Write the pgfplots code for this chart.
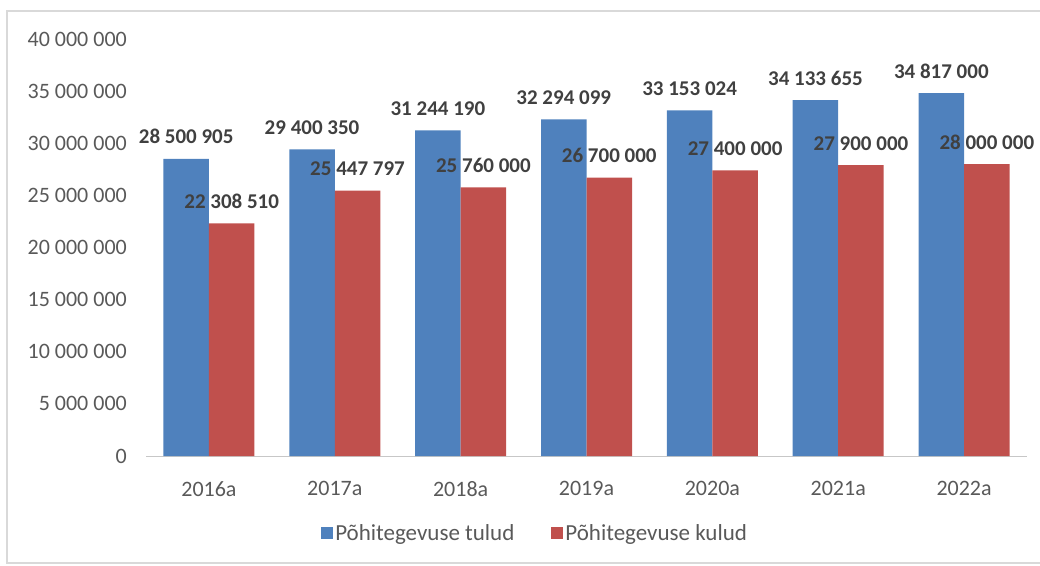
\documentclass[border=0pt]{standalone}
\usepackage{fontspec}
\setmainfont{Carlito}
\usepackage{pgfplots}
\pgfplotsset{compat=1.18}
\definecolor{barblue}{HTML}{4F81BD}
\definecolor{barred}{HTML}{C0504D}
\definecolor{txtgray}{HTML}{595959}
\definecolor{lblgray}{HTML}{404040}
\definecolor{framegray}{HTML}{D9D9D9}

\begin{document}
\begin{tikzpicture}[x=1pt,y=1pt]
\useasboundingbox (0,0) rectangle (1040,565);
\draw[framegray, line width=1.2pt] (1040,554) -- (7,554) -- (7,2) -- (1040,2);
\begin{axis}[
    at={(146pt,109pt)}, anchor=south west,
    scale only axis,
    width=881pt, height=417pt,
    xmin=-0.5, xmax=6.5,
    ymin=0, ymax=40000000,
    ybar=0pt, bar width=45.5pt,
    axis x line*=bottom, axis y line*=left,
    x axis line style={draw=framegray!80!gray, line width=1pt},
    y axis line style={draw=none},
    tick style={draw=none},
    xtick={0,1,2,3,4,5,6},
    xticklabels={2016a,2017a,2018a,2019a,2020a,2021a,2022a},
    ytick={0,5000000,10000000,15000000,20000000,25000000,30000000,35000000,40000000},
    yticklabels={0,5 000 000,10 000 000,15 000 000,20 000 000,25 000 000,30 000 000,35 000 000,40 000 000},
    scaled y ticks=false,
    /pgf/number format/assume math mode=true,
    tick label style={font=\fontsize{22}{26}\selectfont, text=txtgray, inner sep=0pt},
    yticklabel shift=19pt,
    xticklabel shift=21pt,
    point meta=explicit symbolic,
    nodes near coords,
    nodes near coords style={font=\bfseries\fontsize{21}{25}\selectfont, text=lblgray, anchor=base, inner sep=0pt, yshift=15pt},
    legend columns=2,
    legend style={at={(0.4417,-0.185)}, anchor=center, draw=none, fill=none,
        font=\fontsize{23}{27}\selectfont, text=txtgray,
        /tikz/every even column/.append style={column sep=34pt},
        nodes={inner sep=2.5pt}},
    legend image code/.code={\fill[#1] (0pt,-6pt) rectangle (12pt,6pt);},
]
\addplot[fill=barblue, draw=none] coordinates {
    (0,28500905) [28 500 905]
    (1,29400350) [29 400 350]
    (2,31244190) [31 244 190]
    (3,32294099) [32 294 099]
    (4,33153024) [33 153 024]
    (5,34133655) [34 133 655]
    (6,34817000) [34 817 000]
};
\addplot[fill=barred, draw=none] coordinates {
    (0,22308510) [22 308 510]
    (1,25447797) [25 447 797]
    (2,25760000) [25 760 000]
    (3,26700000) [26 700 000]
    (4,27400000) [27 400 000]
    (5,27900000) [27 900 000]
    (6,28000000) [28 000 000]
};
\legend{Põhitegevuse tulud, Põhitegevuse kulud}
\end{axis}
\end{tikzpicture}
\end{document}
